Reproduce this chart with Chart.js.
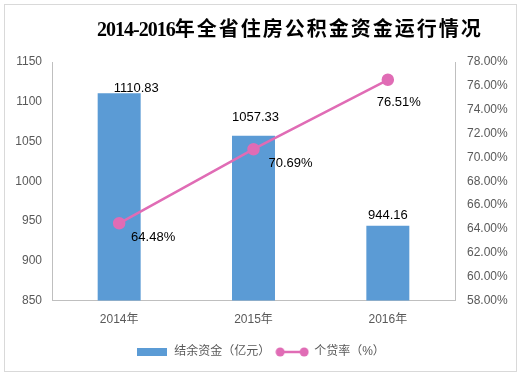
<!DOCTYPE html>
<html>
<head>
<meta charset="utf-8">
<script src="https://cdn.jsdelivr.net/npm/chart.js"></script>
<style>
  html, body { margin: 0; padding: 0; background: #fff; }
  #box {
    position: absolute; left: 4px; top: 4px;
    width: 511px; height: 366px;
    border: 1px solid #d9d9d9;
  }
  #title {
    position: absolute; left: 97px; top: 16px;
    white-space: nowrap; color: #000; font-weight: bold;
    font-family: "Liberation Serif", "Noto Sans CJK SC", serif;
    font-size: 20px; line-height: 24px; letter-spacing: -1px;
  }
  #title .cjk { font-family: "Noto Sans CJK SC", sans-serif; font-size: 20px; letter-spacing: 2px; }
  canvas { display: block; }
</style>
</head>
<body>
<div id="box"><canvas id="chart" width="511" height="366"></canvas></div>
<div id="title">2014-2016<span class="cjk">年全省住房公积金资金运行情况</span></div>
<script>
const years = ['2014年', '2015年', '2016年'];
const balance = [1110.83, 1057.33, 944.16];   // 结余资金（亿元）
const loanRate = [64.48, 70.69, 76.51];       // 个贷率（%）

const FONT = '"Liberation Sans", "Noto Sans CJK SC", sans-serif';
const BLUE = '#5b9bd5';
const PINK = '#e06cb5';

// legend swatches like Excel: a bar block and a line with two dots
function barSwatch() {
  const c = document.createElement('canvas');
  c.width = 30; c.height = 8;
  const g = c.getContext('2d');
  g.fillStyle = BLUE;
  g.fillRect(0, 0, 30, 8);
  return c;
}
function lineSwatch() {
  const c = document.createElement('canvas');
  c.width = 34; c.height = 10;
  const g = c.getContext('2d');
  g.strokeStyle = PINK; g.fillStyle = PINK; g.lineWidth = 2.5;
  g.beginPath(); g.moveTo(5, 5); g.lineTo(29, 5); g.stroke();
  [5, 29].forEach(x => { g.beginPath(); g.arc(x, 5, 4.5, 0, Math.PI * 2); g.fill(); });
  return c;
}

// value labels, Excel-like placement
const valueLabels = {
  id: 'valueLabels',
  afterDatasetsDraw(chart, args, opts) {
    const ctx = chart.ctx;
    ctx.save();
    ctx.font = '13px ' + FONT;
    ctx.fillStyle = '#000';
    ctx.textBaseline = 'middle';
    ctx.textAlign = 'center';
    chart.data.datasets.forEach((ds, di) => {
      const meta = chart.getDatasetMeta(di);
      const isBar = ds.type === 'bar';
      const offs = isBar ? opts.barOffsets : opts.lineOffsets;
      meta.data.forEach((el, i) => {
        const txt = ds.data[i].toFixed(2) + (isBar ? '' : '%');
        ctx.fillText(txt, el.x + offs[i][0], el.y + offs[i][1]);
      });
    });
    ctx.restore();
  }
};

new Chart(document.getElementById('chart'), {
  data: {
    labels: years,
    datasets: [
      {
        type: 'line',
        label: '个贷率（%）',
        data: loanRate,
        yAxisID: 'y1',
        borderColor: PINK,
        backgroundColor: PINK,
        borderWidth: 2.5,
        pointRadius: 5,
        pointHoverRadius: 5,
        swatch: lineSwatch(),
        order: 0
      },
      {
        type: 'bar',
        label: '结余资金（亿元）',
        data: balance,
        yAxisID: 'y',
        backgroundColor: BLUE,
        categoryPercentage: 1,
        barPercentage: 0.32,
        swatch: barSwatch(),
        order: 1
      }
    ]
  },
  options: {
    responsive: false,
    animation: false,
    layout: { padding: { left: 0, right: 0, top: 57, bottom: 3 } },
    plugins: {
      title: { display: false },
      legend: {
        position: 'bottom',
        reverse: true,
        labels: {
          color: '#595959',
          font: { family: FONT, size: 12 },
          usePointStyle: true,
          pointStyleWidth: 32,
          padding: 6,
          generateLabels(chart) {
            return chart.data.datasets.map((ds, i) => ({
              text: ds.label,
              fontColor: '#595959',
              pointStyle: ds.swatch,
              datasetIndex: i,
              hidden: false,
              lineWidth: 0,
              strokeStyle: 'transparent',
              fillStyle: 'transparent'
            }));
          }
        }
      },
      tooltip: { enabled: false },
      valueLabels: {
        barOffsets: [[17, -5], [2, -18], [0, -10]],
        lineOffsets: [[34, 14], [37, 14], [11, 23]]
      }
    },
    scales: {
      x: {
        grid: { display: false },
        border: { color: '#bfbfbf' },
        ticks: { color: '#595959', font: { family: FONT, size: 12 }, padding: 4 },
        afterFit(scale) { scale.height += 9; }
      },
      y: {
        position: 'left',
        min: 850,
        max: 1150,
        grid: { display: false },
        border: { color: '#bfbfbf' },
        ticks: {
          stepSize: 50,
          color: '#595959',
          font: { family: FONT, size: 12 },
          padding: 2,
          callback: v => String(v)
        },
        afterFit(scale) { scale.width = 47; }
      },
      y1: {
        position: 'right',
        min: 58,
        max: 78,
        grid: { display: false },
        border: { color: '#bfbfbf' },
        ticks: {
          stepSize: 2,
          color: '#595959',
          font: { family: FONT, size: 12 },
          padding: 4,
          callback: v => v.toFixed(2) + '%'
        },
        afterFit(scale) { scale.width = 61; }
      }
    }
  },
  plugins: [valueLabels]
});
</script>
</body>
</html>
